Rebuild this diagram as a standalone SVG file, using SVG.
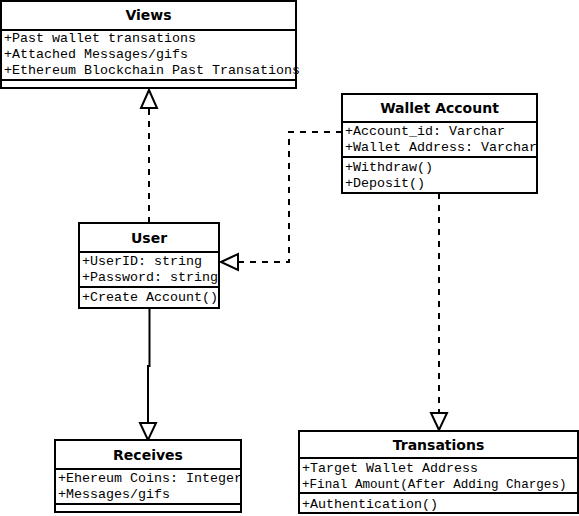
<svg xmlns="http://www.w3.org/2000/svg" width="579" height="516" viewBox="0 0 579 516">
<style>
.box{fill:#fff;stroke:#000;stroke-width:2}
.sep{stroke:#000;stroke-width:2}
.title{font-family:"DejaVu Sans",Verdana,sans-serif;font-weight:bold;font-size:14px;text-anchor:middle;fill:#000}
.row{font-family:"Liberation Mono","Courier New",monospace;font-size:13.33px;fill:#000}
.edge{fill:none;stroke:#000;stroke-width:2}
.dash{stroke-dasharray:6 6}
.head{fill:#fff;stroke:#000;stroke-width:2}
</style>
<rect width="579" height="516" fill="#fff"/>
<g id="connectors">
<path class="edge dash" d="M149 223 V108"/>
<polygon class="head" points="149,90 141,108 157,108"/>
<path class="edge dash" d="M342 132 H289 V262 H238"/>
<polygon class="head" points="221,262 238,254 238,270"/>
<path class="edge dash" d="M439 193 V413"/>
<polygon class="head" points="439,430 431,413 447,413"/>
<path class="edge" d="M149.5 308 V366 H148 V423"/>
<polygon class="head" points="148,440 140,423 156,423"/>
</g>
<g id="views">
<rect class="box" x="1" y="1" width="295" height="87"/>
<line class="sep" x1="1" y1="30" x2="296" y2="30"/>
<line class="sep" x1="1" y1="80" x2="296" y2="80"/>
<text class="title" x="148.5" y="20">Views</text>
<text class="row" x="4" y="42">+Past wallet transations</text>
<text class="row" x="4" y="58">+Attached Messages/gifs</text>
<text class="row" x="4" y="74">+Ethereum Blockchain Past Transations</text>
</g>
<g id="wallet-account">
<rect class="box" x="342" y="94" width="195" height="99"/>
<line class="sep" x1="342" y1="122" x2="537" y2="122"/>
<line class="sep" x1="342" y1="157" x2="537" y2="157"/>
<text class="title" x="439.5" y="113">Wallet Account</text>
<text class="row" x="345" y="135">+Account_id: Varchar</text>
<text class="row" x="345" y="151">+Wallet Address: Varchar</text>
<text class="row" x="345" y="171">+Withdraw()</text>
<text class="row" x="345" y="187">+Deposit()</text>
</g>
<g id="user">
<rect class="box" x="79" y="223" width="140" height="85"/>
<line class="sep" x1="79" y1="252" x2="219" y2="252"/>
<line class="sep" x1="79" y1="287" x2="219" y2="287"/>
<text class="title" x="149" y="243">User</text>
<text class="row" x="82" y="265">+UserID: string</text>
<text class="row" x="82" y="281">+Password: string</text>
<text class="row" x="82" y="301">+Create Account()</text>
</g>
<g id="receives">
<rect class="box" x="55" y="440" width="186" height="72"/>
<line class="sep" x1="55" y1="469" x2="241" y2="469"/>
<line class="sep" x1="55" y1="504" x2="241" y2="504"/>
<text class="title" x="148" y="460">Receives</text>
<text class="row" x="58" y="482">+Ehereum Coins: Integer</text>
<text class="row" x="58" y="498">+Messages/gifs</text>
</g>
<g id="transations">
<rect class="box" x="299" y="431" width="279" height="82"/>
<line class="sep" x1="299" y1="458" x2="578" y2="458"/>
<line class="sep" x1="299" y1="493" x2="578" y2="493"/>
<text class="title" x="438.5" y="450">Transations</text>
<text class="row" x="302" y="472">+Target Wallet Address</text>
<text class="row" x="302" y="488" style="font-size:12.6px">+Final Amount(After Adding Charges)</text>
<text class="row" x="302" y="508">+Authentication()</text>
</g>
</svg>
